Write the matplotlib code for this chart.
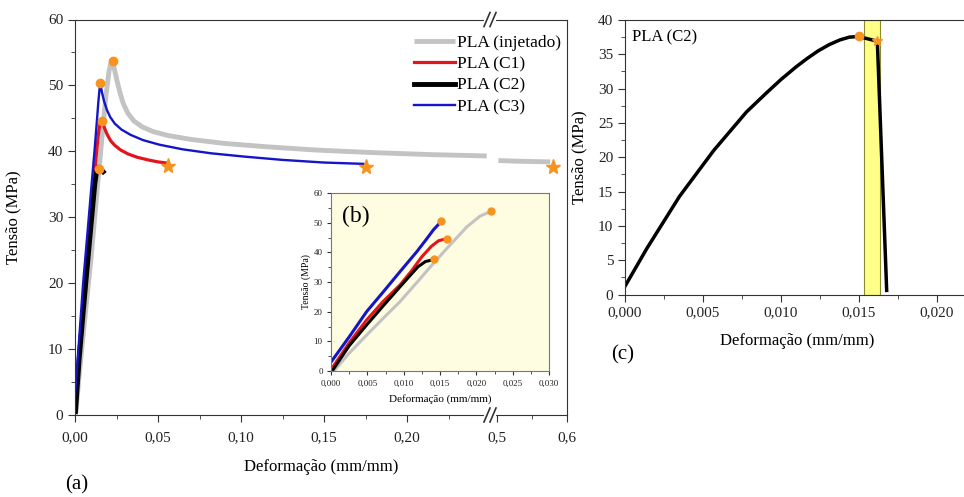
import matplotlib.pyplot as plt
from matplotlib.lines import Line2D
from matplotlib.ticker import MultipleLocator, FixedLocator, FuncFormatter

plt.rcParams['font.family'] = ['Liberation Serif', 'DejaVu Serif']

# --- data (strain mm/mm, stress MPa) ---
# rising part up to the peak (also shown in the inset)
inj_rise_e = [0.0005, 0.0025, 0.0049, 0.0072, 0.0095, 0.0118, 0.0141, 0.0165, 0.0187, 0.0205, 0.0220]
inj_rise_s = [0.3, 6.0, 12.1, 17.8, 23.4, 29.8, 36.3, 42.8, 48.6, 52.2, 53.8]
c1_rise_e = [0.0003, 0.0025, 0.0049, 0.0072, 0.0095, 0.0110, 0.0125, 0.0138, 0.0148, 0.0159]
c1_rise_s = [1.5, 9.5, 17.2, 23.5, 29.0, 33.5, 38.5, 42.0, 43.9, 44.6]
c2_rise_e = [0.0003, 0.0025, 0.0049, 0.0072, 0.0095, 0.0110, 0.0120, 0.0130, 0.0142]
c2_rise_s = [0.5, 8.5, 15.5, 22.0, 28.4, 32.5, 35.2, 36.9, 37.6]
c3_rise_e = [0.0, 0.0025, 0.0049, 0.0072, 0.0095, 0.0118, 0.0130, 0.0141, 0.0152]
c3_rise_s = [3.0, 11.5, 20.0, 26.7, 33.5, 40.2, 44.0, 47.6, 50.5]

# after the peak (main plot only)
inj_post_e = [0.0227, 0.0238, 0.0252, 0.0270, 0.0290, 0.0318, 0.0355, 0.0405, 0.0470, 0.0560,
              0.0700, 0.0900, 0.1150, 0.1450, 0.1800, 0.2150, 0.2480]
inj_post_s = [53.6, 52.4, 50.8, 49.0, 47.3, 45.8, 44.6, 43.7, 43.0, 42.4,
              41.8, 41.2, 40.7, 40.2, 39.8, 39.5, 39.3]
inj_tail_e = [0.502, 0.530, 0.576]
inj_tail_s = [38.6, 38.5, 38.4]
c1_post_e = [0.0165, 0.0178, 0.0195, 0.0215, 0.0240, 0.0275, 0.0320, 0.0375, 0.0440, 0.0500, 0.0560]
c1_post_s = [44.5, 43.5, 42.5, 41.6, 40.9, 40.2, 39.6, 39.1, 38.7, 38.4, 38.2]
c2_post_e = [0.0146, 0.0160, 0.0170]
c2_post_s = [37.3, 37.2, 36.9]
c3_post_e = [0.0152, 0.0162, 0.0175, 0.0192, 0.0212, 0.0240, 0.0280, 0.0335, 0.0410, 0.0510,
             0.0650, 0.0820, 0.1020, 0.1250, 0.1500, 0.1737]
c3_post_s = [50.4, 49.0, 47.6, 46.3, 45.2, 44.2, 43.3, 42.5, 41.7, 41.0,
             40.3, 39.7, 39.2, 38.7, 38.3, 38.1]

peak_e = [0.0227, 0.0162, 0.0146, 0.0152]
peak_s = [53.7, 44.6, 37.3, 50.4]
break_e = [0.056, 0.175]
break_s = [37.8, 37.6]
break_tail_e = [0.580]
break_tail_s = [37.6]

# panel (c): PLA (C2) full curve
c2_full_e = [0.0, 0.0014, 0.0035, 0.0057, 0.0078, 0.0090, 0.0100, 0.0110, 0.0117, 0.0124, 0.0131,
             0.0138, 0.0144, 0.0150, 0.0162, 0.0168]
c2_full_s = [1.2, 6.7, 14.3, 21.0, 26.6, 29.2, 31.3, 33.2, 34.4, 35.5, 36.4,
             37.1, 37.5, 37.6, 36.9, 0.6]
band_e = [0.01533, 0.01636]

labels = ['PLA (injetado)', 'PLA (C1)', 'PLA (C2)', 'PLA (C3)']
colors = ['#c3c3c3', '#e3141b', '#000000', '#1414c8']
orange = '#f7931e'
edge = '#333333'


def comma(nd):
    return FuncFormatter(lambda v, p: f'{v:.{nd}f}'.replace('.', ','))


def style(ax, size):
    for s in ax.spines.values():
        s.set_color(edge)
    ax.tick_params(which='both', direction='out', colors=edge, labelcolor='#222222', labelsize=size)
    ax.tick_params(which='major', length=5)
    ax.tick_params(which='minor', length=3)


fig = plt.figure(figsize=(9.64, 4.97), dpi=100)
W, H = 964, 497

# ----- panel (a), broken x axis -----
ax1 = fig.add_axes([75 / W, 82 / H, 415 / W, 395.5 / H])
ax2 = fig.add_axes([490 / W, 82 / H, 77 / W, 395.5 / H], sharey=ax1)

l0, = ax1.plot(inj_rise_e + inj_post_e, inj_rise_s + inj_post_s, color=colors[0], lw=3.5, solid_capstyle='butt')
l1, = ax1.plot(c1_rise_e + c1_post_e, c1_rise_s + c1_post_s, color=colors[1], lw=2.3)
l2, = ax1.plot(c2_rise_e + c2_post_e, c2_rise_s + c2_post_s, color=colors[2], lw=3.5)
l3, = ax1.plot(c3_rise_e + c3_post_e, c3_rise_s + c3_post_s, color=colors[3], lw=1.7)
ax1.plot(peak_e, peak_s, 'o', color=orange, ms=6, zorder=5)
ax1.plot(break_e, break_s, '*', color=orange, ms=11, zorder=5, clip_on=False)

ax2.plot(inj_tail_e, inj_tail_s, color=colors[0], lw=3.5, solid_capstyle='butt')
ax2.plot(break_tail_e, break_tail_s, '*', color=orange, ms=11, zorder=5, clip_on=False)

ax1.set_xlim(0, 0.25)
ax2.set_xlim(0.49, 0.6)
ax1.set_ylim(0, 60)
ax1.xaxis.set_major_locator(FixedLocator([0, 0.05, 0.10, 0.15, 0.20]))
ax1.xaxis.set_minor_locator(FixedLocator([0.025, 0.075, 0.125, 0.175, 0.225]))
ax1.xaxis.set_major_formatter(comma(2))
ax1.yaxis.set_major_locator(MultipleLocator(10))
ax1.yaxis.set_minor_locator(MultipleLocator(5))
ax2.xaxis.set_major_locator(FixedLocator([0.5, 0.6]))
ax2.xaxis.set_minor_locator(FixedLocator([0.55]))
ax2.xaxis.set_major_formatter(comma(1))
style(ax1, 11)
style(ax2, 11)
ax1.tick_params(axis='x', pad=7)
ax2.tick_params(axis='x', pad=7)
ax1.spines['right'].set_visible(False)
ax2.spines['left'].set_visible(False)
ax2.tick_params(axis='y', which='both', left=False, labelleft=False)
ax1.set_ylabel('Tensão (MPa)', fontsize=12)
ax1.yaxis.set_label_coords(-0.13, 0.5)
fig.text(321 / W, 1 - 467 / H, 'Deformação (mm/mm)', ha='center', va='center', fontsize=12)
fig.text(77 / W, 1 - 485 / H, '(a)', ha='center', va='center', fontsize=15)

fig.legend([l0, l1, l2, l3], labels, loc='upper right', bbox_to_anchor=(561 / W, 1 - 35 / H),
           frameon=False, fontsize=12.5, handlelength=2.4, handletextpad=0.1, labelspacing=0.3,
           borderaxespad=0, borderpad=0)

# break marks on the x axis
for yb in (19.5, 415):
    fig.add_artist(Line2D([486 / W, 494 / W], [1 - yb / H, 1 - yb / H], color='white', lw=3))
    for dx in (-3, 3):
        fig.add_artist(Line2D([(490 + dx - 3) / W, (490 + dx + 3) / W],
                              [1 - (yb + 7) / H, 1 - (yb - 7) / H], color=edge, lw=1.2))

# ----- inset (b) -----
axi = fig.add_axes([331 / W, 126 / H, 218 / W, 178 / H], facecolor='#fefde2')
axi.plot(inj_rise_e, inj_rise_s, color=colors[0], lw=2.2)
axi.plot(c1_rise_e, c1_rise_s, color=colors[1], lw=2.2)
axi.plot(c2_rise_e, c2_rise_s, color=colors[2], lw=2.2)
axi.plot(c3_rise_e, c3_rise_s, color=colors[3], lw=2.2)
axi.plot([inj_rise_e[-1], c1_rise_e[-1], c2_rise_e[-1], c3_rise_e[-1]],
         [inj_rise_s[-1], c1_rise_s[-1], c2_rise_s[-1], c3_rise_s[-1]], 'o', color=orange, ms=5, zorder=5)
axi.set_xlim(0, 0.030)
axi.set_ylim(0, 60)
axi.xaxis.set_major_locator(MultipleLocator(0.005))
axi.xaxis.set_minor_locator(MultipleLocator(0.0025))
axi.xaxis.set_major_formatter(comma(3))
axi.yaxis.set_major_locator(MultipleLocator(10))
axi.yaxis.set_minor_locator(MultipleLocator(5))
style(axi, 6.5)
axi.tick_params(which='major', length=3, pad=3)
axi.tick_params(which='minor', length=2)
for s in axi.spines.values():
    s.set_color('#777777')
axi.set_xlabel('Deformação (mm/mm)', fontsize=8, labelpad=5)
axi.set_ylabel('Tensão (MPa)', fontsize=7, labelpad=2)
axi.text(0.05, 0.93, '(b)', transform=axi.transAxes, fontsize=17, va='top')

# ----- panel (c) -----
ax3 = fig.add_axes([625 / W, 202.5 / H, 338 / W, 274.5 / H])
ax3.axvspan(band_e[0], band_e[1], facecolor='#ffff88', edgecolor='#8a8a30', lw=0.8)
ax3.plot(c2_full_e, c2_full_s, color='black', lw=2.5)
ax3.plot([c2_full_e[13]], [c2_full_s[13]], 'o', color=orange, ms=6, zorder=5)
ax3.plot([c2_full_e[14]], [c2_full_s[14]], '*', color=orange, ms=7, zorder=5)
ax3.set_xlim(0, 0.0217)
ax3.set_ylim(0, 40)
ax3.xaxis.set_major_locator(MultipleLocator(0.005))
ax3.xaxis.set_minor_locator(MultipleLocator(0.0025))
ax3.xaxis.set_major_formatter(comma(3))
ax3.yaxis.set_major_locator(MultipleLocator(5))
ax3.yaxis.set_minor_locator(MultipleLocator(2.5))
style(ax3, 11)
ax3.spines['right'].set_visible(False)
ax3.set_ylabel('Tensão (MPa)', fontsize=12)
ax3.yaxis.set_label_coords(-0.11, 0.5)
ax3.set_xlabel('Deformação (mm/mm)', fontsize=12)
ax3.xaxis.set_label_coords(0.509, -0.14)
ax3.text(0.022, 0.965, 'PLA (C2)', transform=ax3.transAxes, fontsize=12, va='top')
fig.text(623 / W, 1 - 355 / H, '(c)', ha='center', va='center', fontsize=15)

fig.savefig('out.png', dpi=100)
